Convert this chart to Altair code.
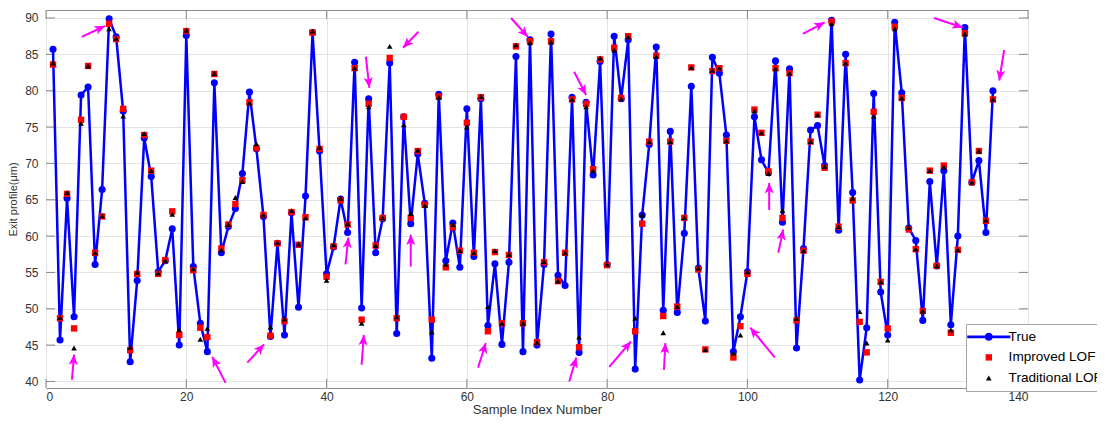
import math
import altair as alt
import pandas as pd

# ---------------- data ----------------
sample_index = list(range(1, 136))

true_vals = [85.7, 45.7, 65.2, 48.9, 79.4, 80.5, 56.1, 66.4, 89.9, 87.4,
             77.2, 42.7, 53.9, 73.5, 68.2, 55.1, 56.6, 61.0, 45.0, 87.6,
             55.8, 48.0, 44.1, 81.1, 57.7, 61.3, 63.8, 68.6, 79.8, 72.0,
             62.7, 46.2, 59.0, 46.4, 63.2, 50.2, 65.5, 88.0, 71.7, 54.8,
             58.5, 65.1, 60.5, 83.9, 50.1, 78.9, 57.7, 62.4, 83.8, 46.6,
             76.4, 61.7, 71.3, 64.5, 43.2, 79.5, 56.6, 61.8, 55.7, 77.5,
             57.2, 78.9, 47.7, 56.2, 45.1, 56.4, 84.7, 44.1, 87.0, 45.0,
             56.1, 87.8, 54.6, 53.2, 79.1, 44.0, 78.4, 68.4, 84.0, 56.1,
             87.5, 78.9, 87.0, 41.7, 62.9, 72.6, 86.0, 49.8, 74.4, 49.5,
             60.4, 80.6, 55.6, 48.3, 84.6, 82.4, 73.9, 44.1, 48.9, 55.1,
             76.4, 70.5, 68.7, 84.1, 61.9, 83.0, 44.6, 58.3, 74.6, 75.2,
             69.7, 89.7, 60.8, 85.0, 66.0, 40.2, 47.4, 79.6, 52.3, 46.4,
             89.4, 79.7, 61.1, 59.4, 48.4, 67.5, 55.9, 69.0, 47.8, 60.0,
             88.7, 67.4, 70.4, 60.5, 80.0]

improved_vals = [83.6, 48.7, 65.8, 47.3, 76.0, 83.4, 57.7, 62.7, 89.2, 87.1,
                 77.5, 44.3, 54.8, 73.9, 69.0, 54.8, 56.7, 63.4, 46.4, 88.2,
                 55.3, 47.4, 46.1, 82.3, 58.3, 61.6, 64.4, 67.7, 78.4, 72.1,
                 62.9, 46.3, 59.0, 48.3, 63.3, 58.8, 62.6, 88.0, 72.0, 54.4,
                 58.6, 64.9, 61.6, 83.1, 48.5, 78.2, 58.7, 62.5, 84.5, 48.7,
                 76.4, 62.5, 71.7, 64.3, 48.5, 79.2, 55.7, 61.2, 58.0, 75.6,
                 57.7, 79.1, 46.9, 57.8, 48.0, 57.4, 86.1, 48.0, 86.8, 45.4,
                 56.4, 86.8, 53.8, 57.7, 78.8, 44.7, 78.2, 69.2, 84.3, 56.0,
                 85.9, 79.0, 87.5, 46.9, 61.7, 73.0, 84.8, 49.0, 73.0, 50.3,
                 62.5, 83.2, 55.4, 44.4, 82.7, 83.1, 73.1, 43.3, 47.6, 54.8,
                 77.4, 74.2, 68.9, 83.1, 62.5, 82.4, 48.4, 58.0, 73.0, 76.7,
                 69.4, 89.5, 61.3, 83.8, 64.9, 48.2, 44.0, 77.1, 53.7, 47.3,
                 88.8, 79.0, 60.9, 58.2, 49.7, 69.0, 55.9, 69.7, 46.7, 58.1,
                 87.9, 67.4, 71.7, 62.1, 78.8]

traditional_vals = [83.8, 48.8, 66.0, 44.6, 75.5, 83.4, 57.7, 62.8, 88.5, 87.2,
                    76.5, 44.7, 55.0, 74.1, 69.0, 54.9, 56.6, 63.0, 47.1, 88.3,
                    55.5, 45.8, 47.3, 82.4, 58.1, 61.6, 65.3, 67.5, 78.3, 72.7,
                    62.9, 47.5, 59.1, 48.6, 63.5, 58.9, 62.5, 88.2, 72.2, 53.9,
                    58.8, 65.2, 61.7, 83.1, 48.0, 77.8, 58.7, 62.5, 86.1, 48.9,
                    75.3, 63.1, 71.8, 64.2, 46.8, 79.1, 56.1, 61.6, 58.0, 75.0,
                    57.7, 79.2, 50.3, 58.0, 48.0, 57.5, 86.3, 48.0, 86.6, 45.4,
                    56.5, 86.7, 53.8, 57.7, 78.8, 46.1, 77.8, 69.0, 84.5, 56.1,
                    85.6, 78.9, 87.4, 48.7, 62.9, 73.0, 84.7, 46.7, 73.0, 50.3,
                    62.5, 83.2, 55.6, 44.4, 82.8, 83.1, 73.1, 43.9, 46.4, 55.1,
                    77.2, 74.2, 68.6, 83.0, 63.5, 82.4, 48.7, 58.0, 73.0, 76.7,
                    69.6, 89.2, 61.3, 83.8, 65.2, 49.6, 45.3, 76.5, 53.7, 45.7,
                    88.5, 79.0, 61.2, 58.2, 49.7, 69.0, 55.9, 69.5, 47.1, 58.1,
                    87.8, 67.4, 71.7, 62.2, 78.8]

# annotation arrows: start (x, y) -> tip (x, y), in data units
arrow_x_start = [3.7, 5.1, 25.6, 28.7, 45.6, 42.7, 45.0, 53.1, 52.0, 61.6, 66.3,
                 75.3, 74.6, 80.3, 88.1, 103.9, 103.1, 104.4, 107.9, 126.6, 136.6]
arrow_y_start = [40.25, 87.4, 39.8, 42.6, 84.7, 56.1, 42.3, 88.1, 55.8, 41.9, 90.0,
                 82.6, 40.0, 42.0, 41.6, 43.3, 63.6, 57.7, 87.8, 90.0, 85.6]
arrow_x_tip = [4.0, 8.4, 23.7, 31.1, 46.1, 43.1, 45.3, 50.9, 52.0, 62.7, 68.7,
               77.0, 75.6, 83.4, 88.3, 100.4, 103.1, 105.1, 111.0, 130.7, 135.9]
arrow_y_tip = [43.7, 88.9, 43.4, 45.1, 80.4, 59.8, 46.4, 85.9, 60.2, 45.3, 87.4,
               79.4, 43.3, 45.5, 45.3, 47.4, 67.3, 60.9, 89.4, 88.7, 81.4]

series_names = ["True", "Improved LOF", "Traditional LOF"]
series_colors = ["#0000FF", "#FF0000", "#000000"]
series_sizes = [50, 32, 48]
x_ticks = [0, 20, 40, 60, 80, 100, 120, 140]
y_ticks = [40, 45, 50, 55, 60, 65, 70, 75, 80, 85, 90]

# ---------------- layout ----------------
W, H = 982, 378
X_DOMAIN = [0, 140]
Y_DOMAIN = [39.1, 91.1]
FONT = "Liberation Sans"
TXT = "#333333"

df_true = pd.DataFrame({"x": sample_index, "y": true_vals})
df_pts = pd.concat([
    pd.DataFrame({"x": sample_index, "y": improved_vals, "series": "Improved LOF"}),
    pd.DataFrame({"x": sample_index, "y": traditional_vals, "series": "Traditional LOF"}),
], ignore_index=True)

sx = W / (X_DOMAIN[1] - X_DOMAIN[0])
sy = H / (Y_DOMAIN[1] - Y_DOMAIN[0])
angles = [(math.degrees(math.atan2((x1 - x0) * sx, (y1 - y0) * sy)) + 360) % 360
          for x0, y0, x1, y1 in zip(arrow_x_start, arrow_y_start, arrow_x_tip, arrow_y_tip)]
df_shaft = pd.DataFrame({"x": arrow_x_start, "y": arrow_y_start,
                         "xe": arrow_x_tip, "ye": arrow_y_tip})
df_head = pd.DataFrame({"x": arrow_x_tip, "y": arrow_y_tip, "angle": angles})

df_xt = pd.DataFrame({"x": x_ticks})
df_yt = pd.DataFrame({"y": y_ticks})

x_axis = alt.Axis(values=x_ticks, title="Sample Index Number", grid=True,
                  gridColor="#e3e3e3", ticks=False, domain=False,
                  labelFont=FONT, labelFontSize=12, labelColor=TXT, labelPadding=3,
                  titleFont=FONT, titleFontSize=13, titleFontWeight="normal",
                  titleColor=TXT, titlePadding=1)
y_axis = alt.Axis(values=y_ticks, title="Exit profile(μm)", grid=True,
                  gridColor="#e3e3e3", ticks=False, domain=False,
                  labelFont=FONT, labelFontSize=12, labelColor=TXT, labelPadding=8,
                  titleFont=FONT, titleFontSize=11, titleFontWeight="normal",
                  titleColor=TXT, titlePadding=6)

xenc = alt.X("x:Q", scale=alt.Scale(domain=X_DOMAIN, nice=False, zero=False), axis=x_axis)
yenc = alt.Y("y:Q", scale=alt.Scale(domain=Y_DOMAIN, nice=False, zero=False), axis=y_axis)

TRUE_SYMBOL = ("M-6.1,-0.4L6.1,-0.4L6.1,0.4L-6.1,0.4Z"
               "M1.15,0A1.15,1.15,0,1,1,-1.15,0A1.15,1.15,0,1,1,1.15,0Z")
HEAD_SYMBOL = "M0,0L0.7,1.6L0,1.2L-0.7,1.6Z"

legend = alt.Legend(title=None, orient="none", legendX=920, legendY=314,
                    fillColor="white", strokeColor="#a6a6a6", padding=6,
                    cornerRadius=0, labelFont=FONT, labelFontSize=13.6,
                    labelColor="#000000", symbolSize=40, symbolOffset=10,
                    labelOffset=13, rowPadding=5.6, symbolStrokeWidth=0)

line = alt.Chart(df_true).mark_line(color="#0000FF", strokeWidth=2.5).encode(x=xenc, y=yenc)
circles = alt.Chart(df_true).mark_point(shape="circle", filled=True, color="#0000FF",
                                        size=50, opacity=1).encode(x=xenc, y=yenc)
points = alt.Chart(df_pts).mark_point(filled=True, opacity=1).encode(
    x=xenc, y=yenc,
    color=alt.Color("series:N", scale=alt.Scale(domain=series_names, range=series_colors),
                    legend=legend),
    shape=alt.Shape("series:N", scale=alt.Scale(domain=series_names,
                                                range=[TRUE_SYMBOL, "square", "triangle-up"]),
                    legend=legend),
    size=alt.Size("series:N", scale=alt.Scale(domain=series_names, range=series_sizes),
                  legend=None),
)

shafts = alt.Chart(df_shaft).mark_rule(color="#FF00FF", strokeWidth=2).encode(
    x=xenc, y=yenc, x2="xe:Q", y2="ye:Q")
heads = alt.Chart(df_head).mark_point(shape=HEAD_SYMBOL, filled=True, color="#FF00FF",
                                      size=170, opacity=1).encode(
    x=xenc, y=yenc, angle=alt.Angle("angle:Q", scale=None))

TICK_C = "#707070"
tick_l = alt.Chart(df_yt).mark_rule(color=TICK_C, strokeWidth=0.8).encode(
    y=yenc, x=alt.value(0), x2=alt.value(9))
tick_r = alt.Chart(df_yt).mark_rule(color=TICK_C, strokeWidth=0.8).encode(
    y=yenc, x=alt.value(W - 9), x2=alt.value(W))
tick_b = alt.Chart(df_xt).mark_rule(color=TICK_C, strokeWidth=0.8).encode(
    x=xenc, y=alt.value(H - 9), y2=alt.value(H))
tick_t = alt.Chart(df_xt).mark_rule(color=TICK_C, strokeWidth=0.8).encode(
    x=xenc, y=alt.value(0), y2=alt.value(9))

chart = alt.layer(tick_l, tick_r, tick_b, tick_t, line, circles, points, shafts, heads).properties(
    width=W, height=H,
    autosize=alt.AutoSizeParams(type="none"),
    padding={"left": 38, "top": 2, "right": 69, "bottom": 29},
    background="white",
).configure_view(stroke="#8c8c8c", strokeWidth=1)

chart.save("out.html", embed_options={"renderer": "svg", "actions": False})
